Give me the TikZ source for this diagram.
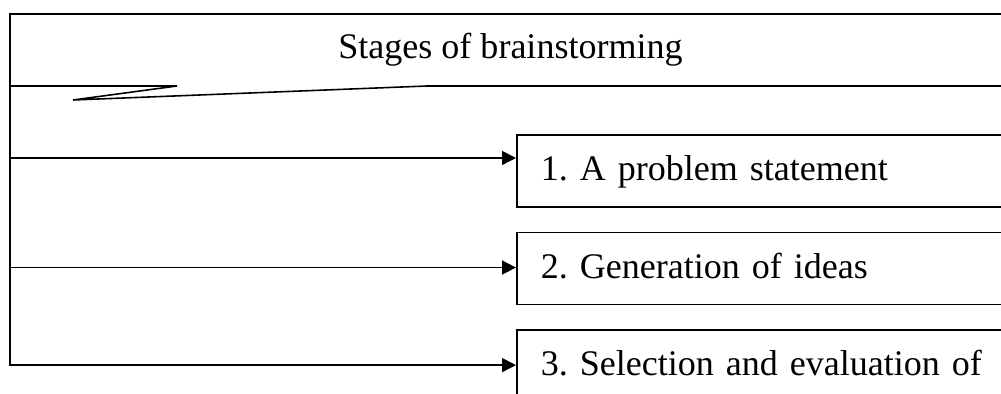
\documentclass[tikz,border=0pt]{standalone}
\usepackage{fontspec}
\setmainfont{Liberation Serif}
\usetikzlibrary{arrows.meta,positioning}

\newcommand\stagefont{\fontsize{20.5}{25}\selectfont\frenchspacing\spaceskip=0.25em\relax}

\tikzset{
    stagebox/.style={draw, line width=0.9pt, rectangle, anchor=north west,
        align=left, text width=9cm, inner xsep=0.48cm, inner ysep=0pt,
        text height=0.92cm, text depth=0.52cm, font=\stagefont},
    stagearrow/.style={line width=0.9pt, -{Triangle[length=0.28cm, width=0.28cm]}},
    outline/.style={line width=0.9pt, line join=miter}
}

\begin{document}
\begin{tikzpicture}[x=0.02cm, y=0.02cm]

\useasboundingbox (0,0) rectangle (1001,-394);
\clip (0,0) rectangle (1001,-394);

% Heading with its callout outline
\node[font=\stagefont, anchor=base] (title) at (510.5,-59) {Stages of brainstorming};
\draw[outline] (10,-86) -- (10,-14) -- (1020,-14)
    (1020,-86) -- (427,-86) -- (73,-100) -- (177,-86) -- (10,-86);
\coordinate (spine) at (10,-86);

% Stages
\node[stagebox] (s1) at (516,-134) {1. A problem statement};
\node[stagebox, below=0.48cm of s1] (s2) {2. Generation of ideas};
\node[stagebox, below=0.48cm of s2] (s3) {3. Selection and evaluation of};

% Arrows from the left spine
\draw[stagearrow] (spine) |- ([yshift=-0.48cm]s1.north west);
\draw[stagearrow] (spine) |- ([yshift=-0.72cm]s2.north west);
\draw[stagearrow] (spine) |- ([yshift=-0.72cm]s3.north west);

\end{tikzpicture}
\end{document}
